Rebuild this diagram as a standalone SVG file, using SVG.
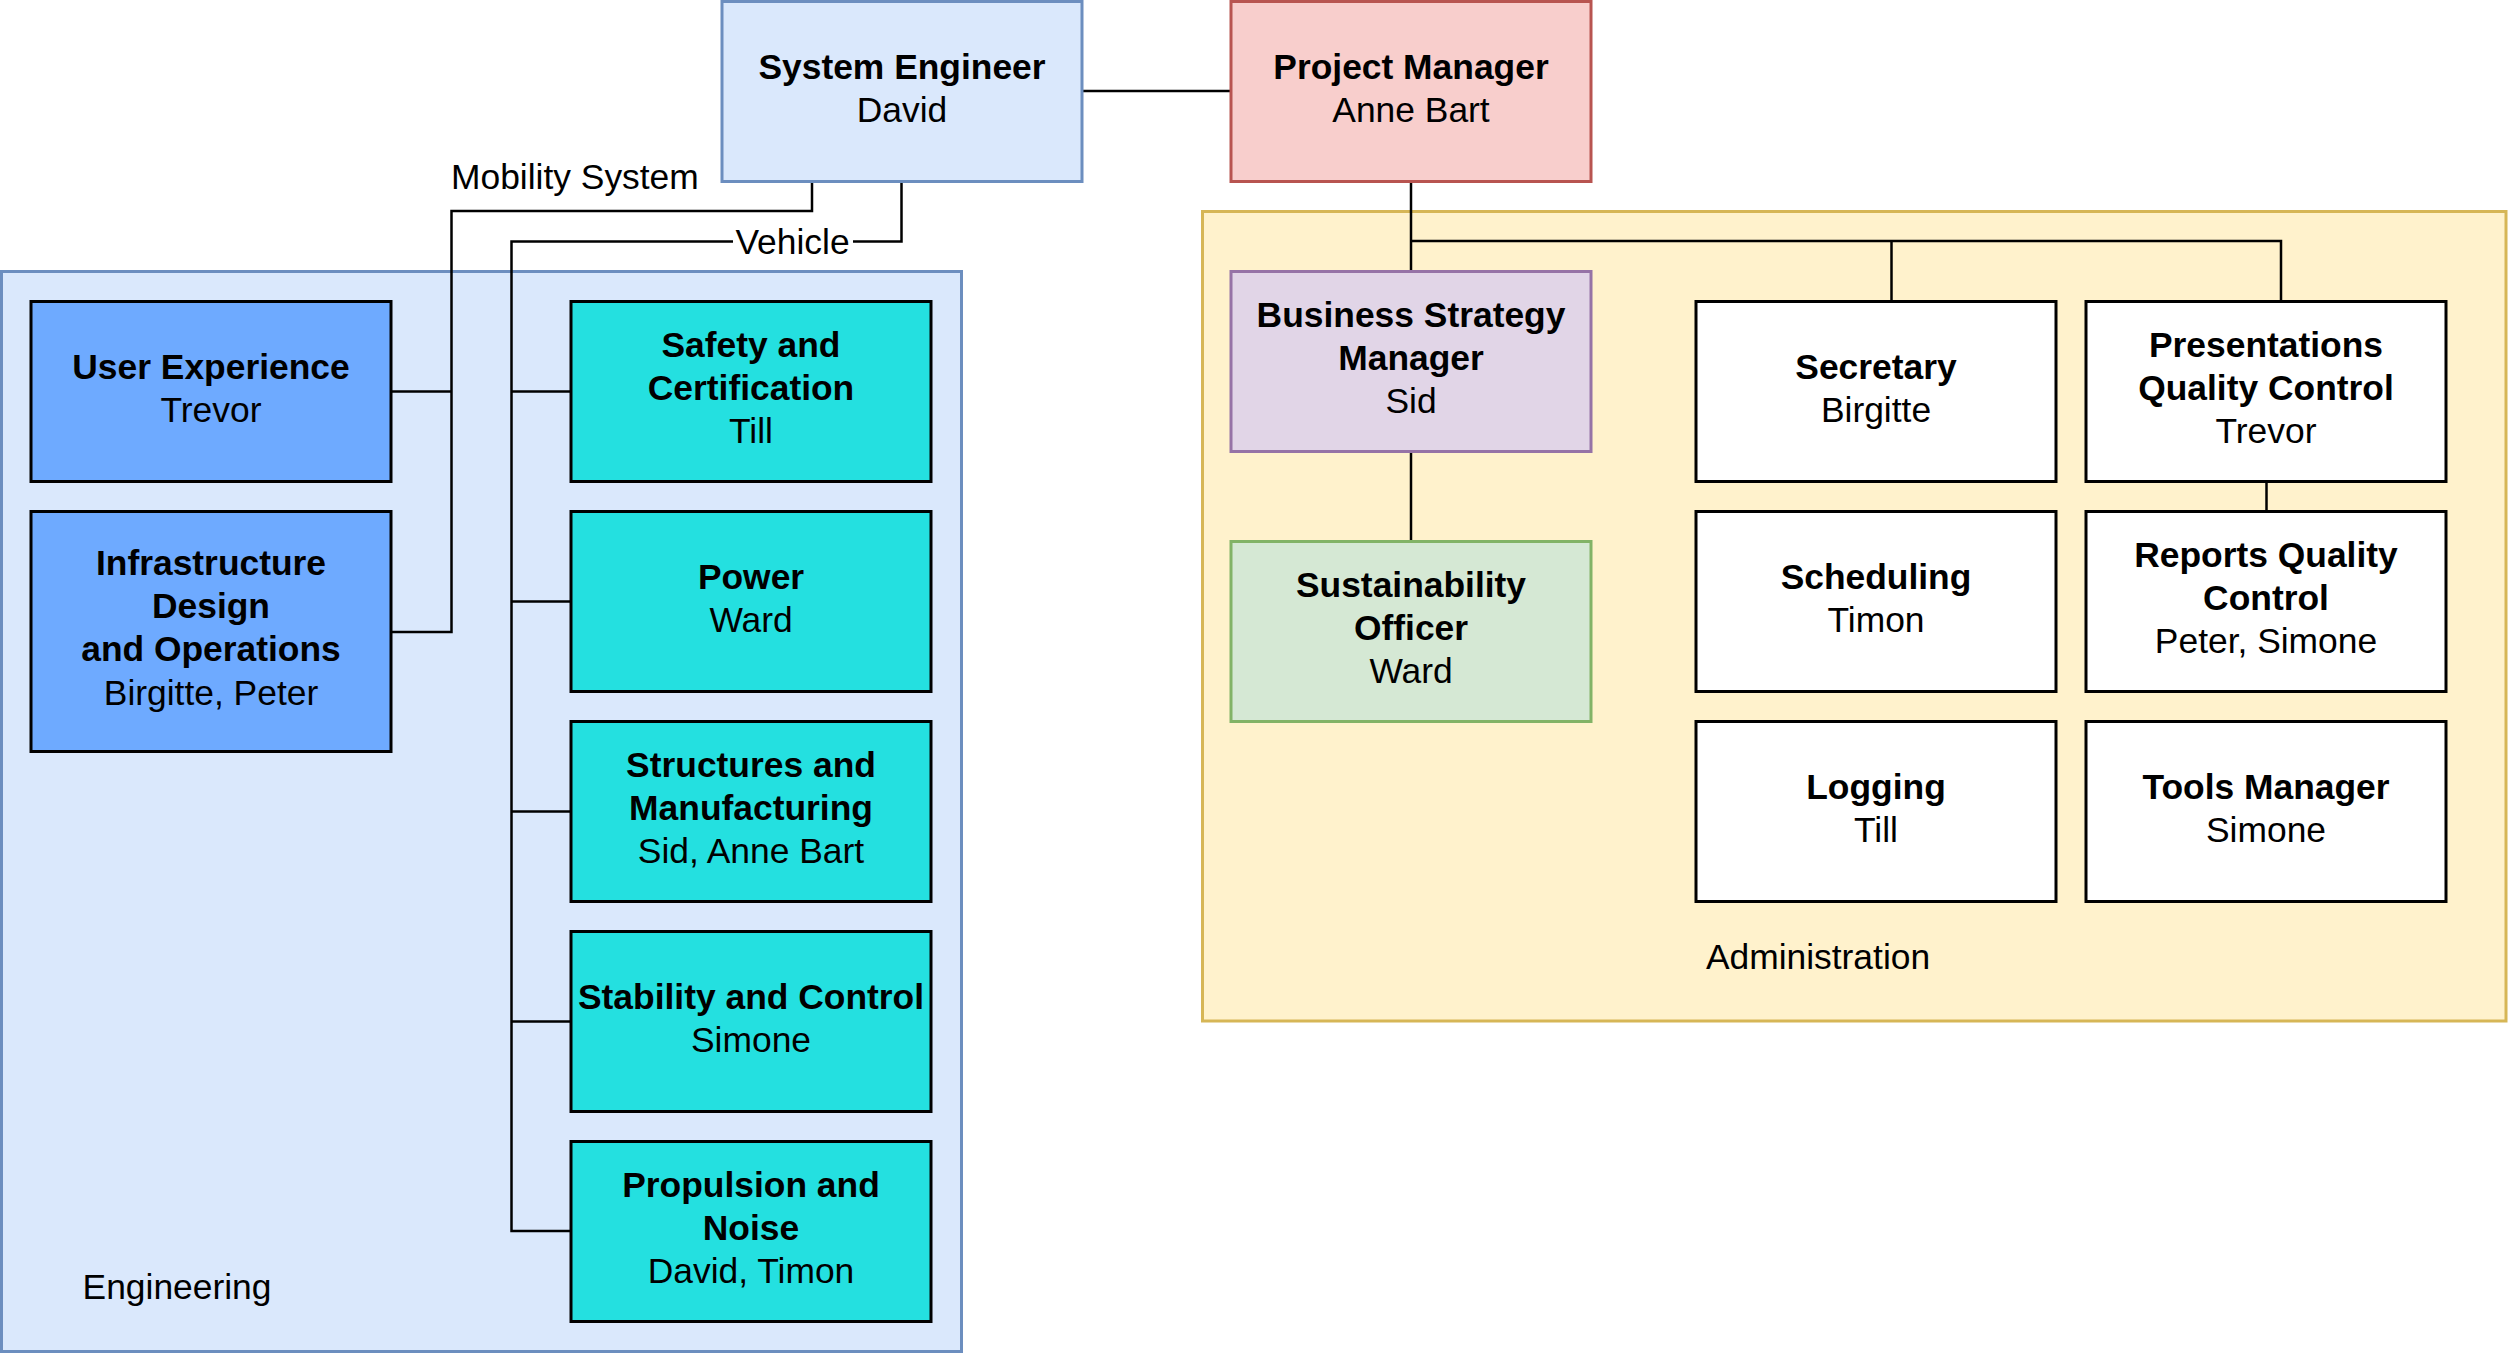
<svg xmlns="http://www.w3.org/2000/svg" width="2508" height="1353" viewBox="0 0 2508 1353">
<style>
text{font-family:"Liberation Sans",Arial,sans-serif;font-size:35.4px;fill:#000;text-anchor:middle}
.b{font-weight:bold}
.n{stroke:#000;stroke-width:3}
.ux{fill:#6eaaff}
.tl{fill:#24e0e0}
.wh{fill:#fff}
.c{fill:none;stroke:#000;stroke-width:2.5}
.lbl{text-anchor:start}
</style>
<rect width="2508" height="1353" fill="#fff"/>
<g id="containers">
<g id="engineering">
<rect x="1.5" y="271.5" width="960" height="1080" fill="#dae8fc" stroke="#6c8ebf" stroke-width="3"/>
<text x="177" y="1299">Engineering</text>
</g>
<g id="administration">
<rect x="1202.5" y="211.5" width="1303.5" height="809.5" fill="#fff2cc" stroke="#d6b656" stroke-width="3"/>
<text x="1818" y="969">Administration</text>
</g>
</g>
<g id="connectors">
<path class="c" d="M1082 91H1231"/>
<path class="c" d="M1411 181V271"/>
<path class="c" d="M1411 241H2281V301"/>
<path class="c" d="M1891.5 241V301"/>
<path class="c" d="M2266.5 481V511"/>
<path class="c" d="M1411 451V541"/>
<path class="c" d="M812 181V211H451.5V632H391"/>
<path class="c" d="M451.5 391.5H391"/>
<path class="c" d="M901.5 181V241.5H511.5V1231H571"/>
<path class="c" d="M511.5 391.5H571M511.5 601.5H571M511.5 811.5H571M511.5 1021.5H571"/>
<rect x="733" y="222" width="120" height="40" fill="#fff"/>
<text x="792.5" y="254">Vehicle</text>
<text class="lbl" x="451" y="189">Mobility System</text>
</g>
<g id="system-engineer">
<rect x="722" y="1.5" width="360" height="180" fill="#dae8fc" stroke="#6c8ebf" stroke-width="3"/>
<text class="b" x="902" y="79">System Engineer</text>
<text x="902" y="122">David</text>
</g>
<g id="project-manager">
<rect x="1231" y="1.5" width="360" height="180" fill="#f8cecc" stroke="#b85450" stroke-width="3"/>
<text class="b" x="1411" y="79">Project Manager</text>
<text x="1411" y="122">Anne Bart</text>
</g>
<g id="user-experience">
<rect class="n ux" x="31" y="301.5" width="360" height="180"/>
<text class="b" x="211" y="379">User Experience</text>
<text x="211" y="422">Trevor</text>
</g>
<g id="infrastructure">
<rect class="n ux" x="31" y="511.5" width="360" height="240"/>
<text class="b" x="211" y="575">Infrastructure</text>
<text class="b" x="211" y="618">Design</text>
<text class="b" x="211" y="661">and Operations</text>
<text x="211" y="705">Birgitte, Peter</text>
</g>
<g id="safety">
<rect class="n tl" x="571" y="301.5" width="360" height="180"/>
<text class="b" x="751" y="357">Safety and</text>
<text class="b" x="751" y="400">Certification</text>
<text x="751" y="443">Till</text>
</g>
<g id="power">
<rect class="n tl" x="571" y="511.5" width="360" height="180"/>
<text class="b" x="751" y="589">Power</text>
<text x="751" y="632">Ward</text>
</g>
<g id="structures">
<rect class="n tl" x="571" y="721.5" width="360" height="180"/>
<text class="b" x="751" y="777">Structures and</text>
<text class="b" x="751" y="820">Manufacturing</text>
<text x="751" y="863">Sid, Anne Bart</text>
</g>
<g id="stability">
<rect class="n tl" x="571" y="931.5" width="360" height="180"/>
<text class="b" x="751" y="1009">Stability and Control</text>
<text x="751" y="1052">Simone</text>
</g>
<g id="propulsion">
<rect class="n tl" x="571" y="1141.5" width="360" height="180"/>
<text class="b" x="751" y="1197">Propulsion and</text>
<text class="b" x="751" y="1240">Noise</text>
<text x="751" y="1283">David, Timon</text>
</g>
<g id="business-strategy">
<rect x="1231" y="271.5" width="360" height="180" fill="#e1d5e7" stroke="#9673a6" stroke-width="3"/>
<text class="b" x="1411" y="327">Business Strategy</text>
<text class="b" x="1411" y="370">Manager</text>
<text x="1411" y="413">Sid</text>
</g>
<g id="sustainability">
<rect x="1231" y="541.5" width="360" height="180" fill="#d5e8d4" stroke="#82b366" stroke-width="3"/>
<text class="b" x="1411" y="597">Sustainability</text>
<text class="b" x="1411" y="640">Officer</text>
<text x="1411" y="683">Ward</text>
</g>
<g id="secretary">
<rect class="n wh" x="1696" y="301.5" width="360" height="180"/>
<text class="b" x="1876" y="379">Secretary</text>
<text x="1876" y="422">Birgitte</text>
</g>
<g id="presentations">
<rect class="n wh" x="2086" y="301.5" width="360" height="180"/>
<text class="b" x="2266" y="357">Presentations</text>
<text class="b" x="2266" y="400">Quality Control</text>
<text x="2266" y="443">Trevor</text>
</g>
<g id="scheduling">
<rect class="n wh" x="1696" y="511.5" width="360" height="180"/>
<text class="b" x="1876" y="589">Scheduling</text>
<text x="1876" y="632">Timon</text>
</g>
<g id="reports">
<rect class="n wh" x="2086" y="511.5" width="360" height="180"/>
<text class="b" x="2266" y="567">Reports Quality</text>
<text class="b" x="2266" y="610">Control</text>
<text x="2266" y="653">Peter, Simone</text>
</g>
<g id="logging">
<rect class="n wh" x="1696" y="721.5" width="360" height="180"/>
<text class="b" x="1876" y="799">Logging</text>
<text x="1876" y="842">Till</text>
</g>
<g id="tools">
<rect class="n wh" x="2086" y="721.5" width="360" height="180"/>
<text class="b" x="2266" y="799">Tools Manager</text>
<text x="2266" y="842">Simone</text>
</g>
</svg>
